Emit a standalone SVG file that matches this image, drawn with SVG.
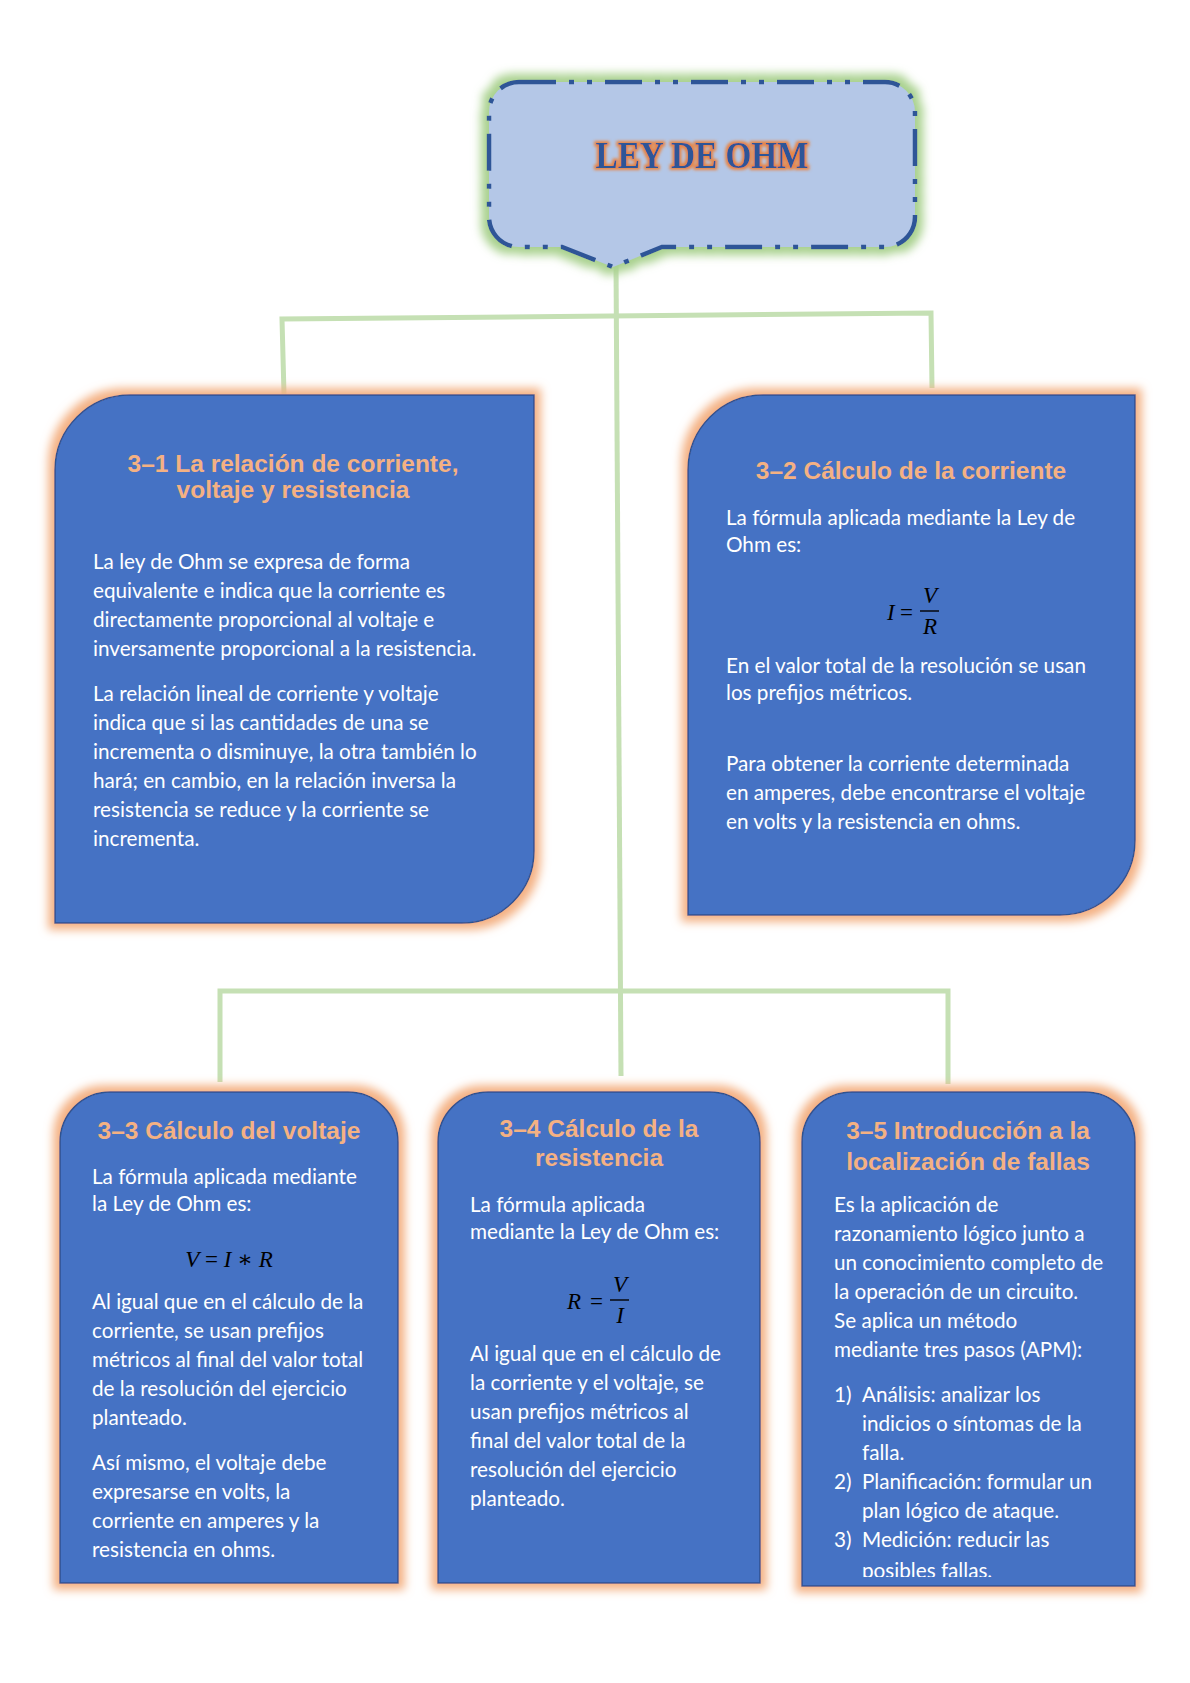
<svg xmlns="http://www.w3.org/2000/svg" width="1190" height="1683" viewBox="0 0 1190 1683">
<defs>
<filter id="glowO" x="-10%" y="-10%" width="120%" height="120%">
<feMorphology in="SourceAlpha" operator="dilate" radius="6" result="d"/>
<feGaussianBlur in="d" stdDeviation="5" result="b"/>
<feFlood flood-color="#F4B183" flood-opacity="1"/>
<feComposite in2="b" operator="in" result="g"/>
<feMerge><feMergeNode in="g"/><feMergeNode in="SourceGraphic"/></feMerge>
</filter>
<filter id="glowG" x="-10%" y="-15%" width="120%" height="135%">
<feMorphology in="SourceAlpha" operator="dilate" radius="6" result="d"/>
<feGaussianBlur in="d" stdDeviation="5" result="b"/>
<feFlood flood-color="#A9D18E" flood-opacity="1"/>
<feComposite in2="b" operator="in" result="g"/>
<feMerge><feMergeNode in="g"/><feMergeNode in="SourceGraphic"/></feMerge>
</filter>
<filter id="glowT" x="-10%" y="-30%" width="120%" height="160%">
<feMorphology in="SourceAlpha" operator="dilate" radius="2" result="d"/>
<feGaussianBlur in="d" stdDeviation="1.6" result="b"/>
<feFlood flood-color="#ED7D31" flood-opacity="0.9"/>
<feComposite in2="b" operator="in" result="g"/>
<feMerge><feMergeNode in="g"/><feMergeNode in="SourceGraphic"/></feMerge>
</filter>
<clipPath id="clip35"><rect x="802" y="1092" width="333" height="485"/></clipPath>
</defs>
<style>
.box{fill:#4472C4;stroke:#2F528F;stroke-width:1.5;filter:url(#glowO)}
.head{font-family:"Liberation Sans",Arial,sans-serif;font-weight:bold;font-size:24.5px;fill:#F4B183;text-anchor:middle}
.body{font-family:Lato,"Liberation Sans",sans-serif;font-size:20.7px;fill:#FFFFFF}
.math{font-family:"Liberation Serif","DejaVu Serif",serif;font-size:23px;fill:#000000}
.mi{font-style:italic}
.conn{stroke:#C5E0B4;stroke-width:5;fill:none}
</style>
<rect width="1190" height="1683" fill="#FFFFFF"/>

<g id="connectors">
<line class="conn" x1="616" y1="262" x2="621" y2="1076"/>
<polyline class="conn" points="284,394 282,319 931,313 932,388"/>
<polyline class="conn" points="220,1082 220,991 948,991 948,1084"/>
</g>

<g id="title">
<path d="M519,82 H885 A30,30 0 0 1 915,112 V217 A30,30 0 0 1 885,247 H662 L613,267 L562,247 H519 A30,30 0 0 1 489,217 V112 A30,30 0 0 1 519,82 Z" fill="#B4C7E7" stroke="#2F5597" stroke-width="4.5" stroke-dasharray="37 13 5 13 5 13" filter="url(#glowG)"/>
<text x="702" y="168" font-family="'Liberation Serif','DejaVu Serif',serif" font-weight="bold" font-size="38" fill="#2F5597" text-anchor="middle" textLength="213" lengthAdjust="spacingAndGlyphs" filter="url(#glowT)">LEY DE OHM</text>
</g>

<g id="box31">
<path class="box" d="M130,395 H534 V851 A72,72 0 0 1 462,923 H55 V470 A75,75 0 0 1 130,395 Z"/>
<text class="head" x="293" y="472">3–1 La relación de corriente,</text>
<text class="head" x="293" y="498">voltaje y resistencia</text>
<text class="body" x="93" y="569">La ley de Ohm se expresa de forma</text>
<text class="body" x="93" y="598">equivalente e indica que la corriente es</text>
<text class="body" x="93" y="627">directamente proporcional al voltaje e</text>
<text class="body" x="93" y="656">inversamente proporcional a la resistencia.</text>
<text class="body" x="93" y="701">La relación lineal de corriente y voltaje</text>
<text class="body" x="93" y="730">indica que si las cantidades de una se</text>
<text class="body" x="93" y="759">incrementa o disminuye, la otra también lo</text>
<text class="body" x="93" y="788">hará; en cambio, en la relación inversa la</text>
<text class="body" x="93" y="817">resistencia se reduce y la corriente se</text>
<text class="body" x="93" y="846">incrementa.</text>
</g>

<g id="box32">
<path class="box" d="M763,395 H1135 V840 A75,75 0 0 1 1060,915 H688 V470 A75,75 0 0 1 763,395 Z"/>
<text class="head" x="911" y="479">3–2 Cálculo de la corriente</text>
<text class="body" x="726" y="525">La fórmula aplicada mediante la Ley de</text>
<text class="body" x="726" y="552">Ohm es:</text>
<text class="math mi" x="887" y="620">I</text>
<text class="math" x="900" y="620">=</text>
<text class="math mi" x="930" y="603" text-anchor="middle">V</text>
<line x1="920" y1="611" x2="939" y2="611" stroke="#000" stroke-width="1.4"/>
<text class="math mi" x="930" y="634" text-anchor="middle">R</text>
<text class="body" x="726" y="673">En el valor total de la resolución se usan</text>
<text class="body" x="726" y="700">los prefijos métricos.</text>
<text class="body" x="726" y="771">Para obtener la corriente determinada</text>
<text class="body" x="726" y="800">en amperes, debe encontrarse el voltaje</text>
<text class="body" x="726" y="829">en volts y la resistencia en ohms.</text>
</g>

<g id="box33">
<path class="box" d="M110,1092 H348 A50,50 0 0 1 398,1142 V1583 H60 V1142 A50,50 0 0 1 110,1092 Z"/>
<text class="head" x="229" y="1139">3–3 Cálculo del voltaje</text>
<text class="body" x="92" y="1184">La fórmula aplicada mediante</text>
<text class="body" x="92" y="1211">la Ley de Ohm es:</text>
<text class="math" x="229" y="1267" text-anchor="middle"><tspan class="mi">V</tspan> = <tspan class="mi">I</tspan> ∗ <tspan class="mi">R</tspan></text>
<text class="body" x="92" y="1309">Al igual que en el cálculo de la</text>
<text class="body" x="92" y="1338">corriente, se usan prefijos</text>
<text class="body" x="92" y="1367">métricos al final del valor total</text>
<text class="body" x="92" y="1396">de la resolución del ejercicio</text>
<text class="body" x="92" y="1425">planteado.</text>
<text class="body" x="92" y="1470">Así mismo, el voltaje debe</text>
<text class="body" x="92" y="1499">expresarse en volts, la</text>
<text class="body" x="92" y="1528">corriente en amperes y la</text>
<text class="body" x="92" y="1557">resistencia en ohms.</text>
</g>

<g id="box34">
<path class="box" d="M488,1092 H710 A50,50 0 0 1 760,1142 V1583 H438 V1142 A50,50 0 0 1 488,1092 Z"/>
<text class="head" x="599" y="1137">3–4 Cálculo de la</text>
<text class="head" x="599" y="1166">resistencia</text>
<text class="body" x="470" y="1212">La fórmula aplicada</text>
<text class="body" x="470" y="1239">mediante la Ley de Ohm es:</text>
<text class="math mi" x="567" y="1309">R</text>
<text class="math" x="590" y="1309">=</text>
<text class="math mi" x="620" y="1292" text-anchor="middle">V</text>
<line x1="610" y1="1300" x2="629" y2="1300" stroke="#000" stroke-width="1.4"/>
<text class="math mi" x="620" y="1323" text-anchor="middle">I</text>
<text class="body" x="470" y="1361">Al igual que en el cálculo de</text>
<text class="body" x="470" y="1390">la corriente y el voltaje, se</text>
<text class="body" x="470" y="1419">usan prefijos métricos al</text>
<text class="body" x="470" y="1448">final del valor total de la</text>
<text class="body" x="470" y="1477">resolución del ejercicio</text>
<text class="body" x="470" y="1506">planteado.</text>
</g>

<g id="box35">
<path class="box" d="M852,1092 H1085 A50,50 0 0 1 1135,1142 V1586 H802 V1142 A50,50 0 0 1 852,1092 Z"/>
<text class="head" x="968" y="1139">3–5 Introducción a la</text>
<text class="head" x="968" y="1170">localización de fallas</text>
<g clip-path="url(#clip35)">
<text class="body" x="834" y="1212">Es la aplicación de</text>
<text class="body" x="834" y="1241">razonamiento lógico junto a</text>
<text class="body" x="834" y="1270">un conocimiento completo de</text>
<text class="body" x="834" y="1299">la operación de un circuito.</text>
<text class="body" x="834" y="1328">Se aplica un método</text>
<text class="body" x="834" y="1357">mediante tres pasos (APM):</text>
<text class="body" x="834" y="1402">1)</text>
<text class="body" x="862" y="1402">Análisis: analizar los</text>
<text class="body" x="862" y="1431">indicios o síntomas de la</text>
<text class="body" x="862" y="1460">falla.</text>
<text class="body" x="834" y="1489">2)</text>
<text class="body" x="862" y="1489">Planificación: formular un</text>
<text class="body" x="862" y="1518">plan lógico de ataque.</text>
<text class="body" x="834" y="1547">3)</text>
<text class="body" x="862" y="1547">Medición: reducir las</text>
<text class="body" x="862" y="1578">posibles fallas.</text>
</g>
</g>
</svg>
